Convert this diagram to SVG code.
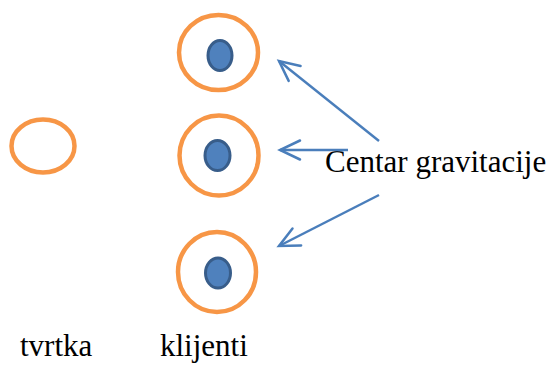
<svg xmlns="http://www.w3.org/2000/svg" width="557" height="367" viewBox="0 0 557 367">
  <style>
    .ring { fill: none; stroke: #F79646; stroke-width: 4.5; }
    .dot { fill: #4F81BD; stroke: #385D8A; stroke-width: 3; }
    .conn { fill: none; stroke: #4A7EBB; stroke-width: 2.5; marker-end: url(#arrow); }
    text { font-family: 'Liberation Serif', 'Times New Roman', Times, serif; font-size: 31px; fill: #000; }
  </style>
  <defs>
    <marker id="arrow" markerUnits="userSpaceOnUse" viewBox="-24 -14 28 28" refX="0" refY="0" markerWidth="28" markerHeight="28" orient="auto" overflow="visible">
      <path d="M-20,-9.5 L0,0 L-20,9.5" fill="none" stroke="#4A7EBB" stroke-width="2.5" stroke-linecap="round" stroke-linejoin="miter"/>
    </marker>
  </defs>
  <rect width="557" height="367" fill="#fff"/>
  <g id="tvrtka">
    <ellipse class="ring" cx="43" cy="146" rx="31.5" ry="26.5"/>
    <text x="20" y="356" font-family="Liberation Serif, serif">tvrtka</text>
  </g>
  <g id="klijent1">
    <ellipse class="ring" cx="218.5" cy="52.5" rx="39.5" ry="37.5"/>
    <ellipse class="dot" cx="220" cy="55.5" rx="12" ry="15"/>
  </g>
  <g id="klijent2">
    <ellipse class="ring" cx="219" cy="155.5" rx="39.5" ry="40"/>
    <ellipse class="dot" cx="217.5" cy="155.5" rx="12.5" ry="15"/>
  </g>
  <g id="klijent3">
    <ellipse class="ring" cx="217" cy="272" rx="39" ry="40"/>
    <ellipse class="dot" cx="218" cy="273" rx="12.5" ry="15"/>
  </g>
  <g id="klijenti-label">
    <text x="160" y="356" font-family="Liberation Serif, serif">klijenti</text>
  </g>
  <g id="centar">
    <text x="325" y="172" font-family="Liberation Serif, serif">Centar gravitacije</text>
  </g>
  <g id="connectors">
    <line class="conn" x1="379" y1="141" x2="279" y2="61"/>
    <line class="conn" x1="348" y1="150" x2="280" y2="150"/>
    <line class="conn" x1="379" y1="195" x2="279" y2="246"/>
  </g>
</svg>
